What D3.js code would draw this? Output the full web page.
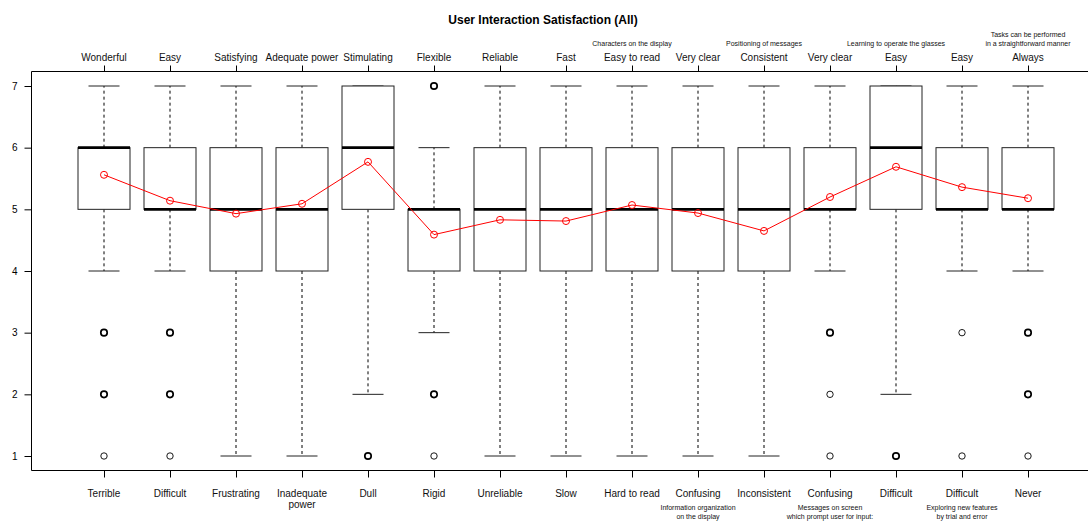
<!DOCTYPE html>
<html>
<head>
<meta charset="utf-8">
<script src="https://cdn.jsdelivr.net/npm/d3@7"></script>
<style>
  html, body { margin: 0; padding: 0; background: #fff; }
  svg { display: block; font-family: "Liberation Sans", Arial, sans-serif; }
</style>
</head>
<body>
<svg id="chart" width="1088" height="521"></svg>
<script>
// Positive pole of each item (top axis) and negative pole (bottom axis)
const topLabels = ["Wonderful", "Easy", "Satisfying", "Adequate power", "Stimulating", "Flexible",
  "Reliable", "Fast", "Easy to read", "Very clear", "Consistent", "Very clear", "Easy", "Easy", "Always"];
const bottomLabels = ["Terrible", "Difficult", "Frustrating", "Inadequate\npower", "Dull", "Rigid",
  "Unreliable", "Slow", "Hard to read", "Confusing", "Inconsistent", "Confusing", "Difficult", "Difficult", "Never"];
// Item captions shown above / below some of the scales
const topNotes = ["", "", "", "", "", "", "", "", "Characters on the display", "", "Positioning of messages",
  "", "Learning to operate the glasses", "", "Tasks can be performed\nin a straightforward manner"];
const bottomNotes = ["", "", "", "", "", "", "", "", "", "Information organization\non the display", "",
  "Messages on screen\nwhich prompt user for input:", "", "Exploring new features\nby trial and error", ""];

// Box-plot statistics per item
const whiskerLow  = [4, 4, 1, 1, 2, 3, 1, 1, 1, 1, 1, 4, 2, 4, 4];
const quartile1   = [5, 5, 4, 4, 5, 4, 4, 4, 4, 4, 4, 5, 5, 5, 5];
const medians     = [6, 5, 5, 5, 6, 5, 5, 5, 5, 5, 5, 5, 6, 5, 5];
const quartile3   = [6, 6, 6, 6, 7, 5, 6, 6, 6, 6, 6, 6, 7, 6, 6];
const whiskerHigh = [7, 7, 7, 7, 7, 6, 7, 7, 7, 7, 7, 7, 7, 7, 7];
const means = [5.56, 5.14, 4.93, 5.09, 5.77, 4.59, 4.83, 4.81, 5.07, 4.94, 4.65, 5.20, 5.69, 5.36, 5.18];
// Outlying responses: [value, number of respondents]
const outliers = [
  [[3, 2], [2, 2], [1, 1]],
  [[3, 3], [2, 2], [1, 1]],
  [], [],
  [[1, 2]],
  [[7, 3], [2, 2], [1, 1]],
  [], [], [], [], [],
  [[3, 3], [2, 1], [1, 1]],
  [[1, 2]],
  [[3, 1], [1, 1]],
  [[3, 3], [2, 2], [1, 1]]
];
const yTicks = [1, 2, 3, 4, 5, 6, 7];
const title = "User Interaction Satisfaction (All)";

const svg = d3.select("#chart");
const plot = { left: 31.5, right: 1100, top: 71.5, bottom: 470.5 };

const idx = d3.range(topLabels.length);
const x = d3.scaleLinear().domain([0, idx.length - 1]).range([104, 1028]);
const y = d3.scaleLinear().domain([1, 7]).range([456, 86]);
const boxHalf = 26, capHalf = 15.5;

// Title
svg.append("text").attr("x", 543).attr("y", 24).attr("text-anchor", "middle")
  .attr("font-size", 12).attr("font-weight", "bold").text(title);

// Frame (open on the right)
svg.append("path")
  .attr("d", `M${plot.right},${plot.top}H${plot.left}V${plot.bottom}H${plot.right}`)
  .attr("fill", "none").attr("stroke", "#000").attr("stroke-width", 1);

// Y axis
const yAxis = d3.axisLeft(y).tickValues(yTicks).tickSize(7).tickPadding(7).tickFormat(d3.format("d"));
svg.append("g").attr("transform", `translate(${plot.left},0)`).call(yAxis)
  .call(g => g.select(".domain").remove())
  .call(g => g.selectAll("text").attr("font-size", 10).attr("font-family", "Liberation Sans, Arial, sans-serif"));

// Top and bottom category axes
const topAxis = d3.axisTop(x).tickValues(idx).tickSize(6).tickFormat(() => "");
svg.append("g").attr("transform", `translate(0,${plot.top})`).call(topAxis)
  .call(g => g.select(".domain").remove());
const bottomAxis = d3.axisBottom(x).tickValues(idx).tickSize(7).tickFormat(() => "");
svg.append("g").attr("transform", `translate(0,${plot.bottom})`).call(bottomAxis)
  .call(g => g.select(".domain").remove());

function multiline(sel, text, x0, y0, lh, size, anchorBottom) {
  const lines = text.split("\n");
  const start = anchorBottom ? y0 - (lines.length - 1) * lh : y0;
  lines.forEach((ln, k) => {
    sel.append("text").attr("x", x0).attr("y", start + k * lh)
      .attr("text-anchor", "middle").attr("font-size", size).attr("fill", "#111").text(ln);
  });
}

const labels = svg.append("g");
idx.forEach(i => {
  multiline(labels, topLabels[i], x(i), 61, 11, 10, true);
  if (topNotes[i]) multiline(labels, topNotes[i], x(i), 46, 9.5, 7, true);
  multiline(labels, bottomLabels[i], x(i), 497, 11, 10, false);
  if (bottomNotes[i]) multiline(labels, bottomNotes[i], x(i), 510, 8.5, 7, false);
});

// Boxes
const boxes = svg.append("g").selectAll("g").data(idx).join("g");
boxes.append("line")
  .attr("x1", i => x(i)).attr("x2", i => x(i))
  .attr("y1", i => y(quartile3[i])).attr("y2", i => y(whiskerHigh[i]))
  .attr("stroke", "#000").attr("stroke-dasharray", "3,3");
boxes.append("line")
  .attr("x1", i => x(i)).attr("x2", i => x(i))
  .attr("y1", i => y(quartile1[i])).attr("y2", i => y(whiskerLow[i]))
  .attr("stroke", "#000").attr("stroke-dasharray", "3,3");
boxes.append("line")
  .attr("x1", i => x(i) - capHalf).attr("x2", i => x(i) + capHalf)
  .attr("y1", i => y(whiskerHigh[i])).attr("y2", i => y(whiskerHigh[i]))
  .attr("stroke", "#222");
boxes.append("line")
  .attr("x1", i => x(i) - capHalf).attr("x2", i => x(i) + capHalf)
  .attr("y1", i => y(whiskerLow[i])).attr("y2", i => y(whiskerLow[i]))
  .attr("stroke", "#222");
boxes.append("rect")
  .attr("x", i => x(i) - boxHalf).attr("width", boxHalf * 2)
  .attr("y", i => y(quartile3[i])).attr("height", i => y(quartile1[i]) - y(quartile3[i]))
  .attr("fill", "#fff").attr("stroke", "#222").attr("stroke-width", 1);
boxes.append("line")
  .attr("x1", i => x(i) - boxHalf).attr("x2", i => x(i) + boxHalf)
  .attr("y1", i => y(medians[i])).attr("y2", i => y(medians[i]))
  .attr("stroke", "#000").attr("stroke-width", 2.6);

// Outliers (overlapping respondents drawn with a heavier ring)
boxes.each(function (i) {
  const g = d3.select(this);
  outliers[i].forEach(([v, n]) => {
    g.append("circle").attr("cx", x(i)).attr("cy", y(v)).attr("r", 3.2)
      .attr("fill", "none").attr("stroke", "#000").attr("stroke-width", n > 1 ? 1.7 : 0.9);
  });
});

// Means
const line = d3.line().x(i => x(i)).y(i => y(means[i]));
svg.append("path").datum(idx).attr("d", line)
  .attr("fill", "none").attr("stroke", "#f00").attr("stroke-width", 1);
svg.append("g").selectAll("circle").data(idx).join("circle")
  .attr("cx", i => x(i)).attr("cy", i => y(means[i])).attr("r", 3.5)
  .attr("fill", "none").attr("stroke", "#f00").attr("stroke-width", 1);
</script>
</body>
</html>
